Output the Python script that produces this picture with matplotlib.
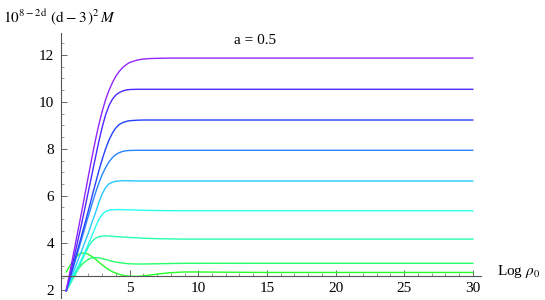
import matplotlib
matplotlib.use("Agg")
import matplotlib.pyplot as plt
import matplotlib.colors as mcolors
import numpy as np

plt.rcParams['font.family'] = ['Liberation Serif', 'DejaVu Serif']
plt.rcParams['mathtext.fontset'] = 'stix'

# x samples (Log rho0)
xs = [0.38, 0.6, 0.8, 1.0, 1.25, 1.5, 1.75, 2.0, 2.25, 2.5, 2.75, 3.0, 3.25, 3.5, 3.75,
      4.0, 4.25, 4.5, 4.75, 5.0, 5.5, 6.0, 6.5, 7.0, 8.0, 9.0, 10.0, 12.0, 15.0, 20.0, 30.0]

# curves from bottom (green) to top (purple)
c1 = [2.75, 2.97, 3.17, 3.33, 3.48, 3.56, 3.56, 3.50, 3.41, 3.30, 3.17, 3.05, 2.94, 2.84, 2.76,
      2.70, 2.65, 2.61, 2.58, 2.57, 2.56, 2.58, 2.62, 2.66, 2.72, 2.75, 2.75, 2.74, 2.73, 2.73, 2.73]
c2 = [2.00, 2.25, 2.48, 2.65, 2.87, 3.05, 3.19, 3.29, 3.35, 3.36, 3.35, 3.32, 3.28, 3.24, 3.20,
      3.17, 3.15, 3.13, 3.11, 3.10, 3.09, 3.09, 3.095, 3.10, 3.11, 3.12, 3.12, 3.12, 3.12, 3.12, 3.12]
c3 = [1.95, 2.15, 2.38, 2.58, 2.88, 3.20, 3.53, 3.83, 4.05, 4.18, 4.25, 4.28, 4.29, 4.28, 4.27,
      4.26, 4.25, 4.24, 4.23, 4.22, 4.21, 4.19, 4.18, 4.17, 4.16, 4.15, 4.15, 4.15, 4.15, 4.15, 4.15]
c4 = [1.95, 2.22, 2.50, 2.72, 3.00, 3.30, 3.62, 3.95, 4.30, 4.65, 4.98, 5.20, 5.33, 5.38, 5.40,
      5.41, 5.41, 5.41, 5.40, 5.40, 5.39, 5.38, 5.375, 5.37, 5.36, 5.36, 5.36, 5.36, 5.36, 5.36, 5.36]
c5 = [1.95, 2.28, 2.60, 2.90, 3.28, 3.65, 4.03, 4.42, 4.85, 5.25, 5.70, 6.08, 6.35, 6.51, 6.58,
      6.62, 6.63, 6.64, 6.64, 6.64, 6.63, 6.63, 6.63, 6.63, 6.63, 6.63, 6.63, 6.63, 6.63, 6.63, 6.63]
c6 = [1.95, 2.38, 2.78, 3.15, 3.65, 4.15, 4.65, 5.15, 5.63, 6.10, 6.53, 6.90, 7.20, 7.45, 7.63,
      7.76, 7.84, 7.89, 7.92, 7.93, 7.94, 7.94, 7.94, 7.94, 7.94, 7.94, 7.94, 7.94, 7.94, 7.94, 7.94]
c7 = [1.95, 2.40, 2.80, 3.25, 3.78, 4.30, 4.84, 5.38, 5.95, 6.50, 7.05, 7.55, 8.00, 8.38, 8.68,
      8.90, 9.04, 9.12, 9.17, 9.20, 9.22, 9.23, 9.23, 9.23, 9.23, 9.23, 9.23, 9.23, 9.23, 9.23, 9.23]
c8 = [1.95, 2.50, 3.00, 3.50, 4.15, 4.80, 5.50, 6.20, 6.90, 7.60, 8.30, 8.92, 9.45, 9.85, 10.12,
      10.30, 10.40, 10.47, 10.51, 10.53, 10.54, 10.54, 10.54, 10.54, 10.54, 10.54, 10.54, 10.54, 10.54, 10.54, 10.54]
c9 = [1.95, 2.60, 3.20, 3.80, 4.55, 5.30, 6.08, 6.85, 7.62, 8.35, 9.02, 9.60, 10.10, 10.50, 10.83,
      11.10, 11.31, 11.47, 11.59, 11.68, 11.78, 11.83, 11.85, 11.86, 11.87, 11.87, 11.87, 11.87, 11.87, 11.87, 11.87]
curves = [c1, c2, c3, c4, c5, c6, c7, c8, c9]

xticks = [5, 10, 15, 20, 25, 30]
yticks = [2, 4, 6, 8, 10, 12]

W, H = 545, 300
fig = plt.figure(figsize=(W / 100, H / 100), dpi=100)
x0_px, x1_px = 61, 481
y_top_px, y_bot_px = 33, 298
ax = fig.add_axes([x0_px / W, 1 - y_bot_px / H, (x1_px - x0_px) / W, (y_bot_px - y_top_px) / H])
ax.set_xlim(0, 30.6)
ax.set_ylim(1.64, 12.94)

hues = np.linspace(1 / 3, 0.75, len(curves))
for h, c in zip(hues, curves):
    col = mcolors.hsv_to_rgb((h, 0.85, 1.0))
    ax.plot(xs, c, color=col, lw=1.0, solid_joinstyle='round')

for s in ['top', 'right']:
    ax.spines[s].set_visible(False)
ax.spines['bottom'].set_position(('data', 2.58))
for s in ['bottom', 'left']:
    ax.spines[s].set_color('#555555')
    ax.spines[s].set_linewidth(0.8)

ax.set_xticks(xticks)
ax.set_xticklabels([str(t) for t in xticks])
ax.set_yticks(yticks)
ax.set_yticklabels([str(t) for t in yticks])
ax.set_xticks(np.arange(1, 31, 1), minor=True)
ax.set_yticks(np.arange(2, 13, 0.5), minor=True)
ax.tick_params(which='major', direction='in', length=4.5, width=0.7, color='#666666',
               labelsize=11, pad=4)
ax.tick_params(which='minor', direction='in', length=2.5, width=0.6, color='#888888')
ax.tick_params(axis='y', which='major', pad=5)

fig.text(255 / W, 1 - 40 / H, "a = 0.5", ha='center', va='center', fontsize=11)
fig.text(3 / W, 1 - 17 / H, r"$10^{8-2\,\mathrm{d}}\ (\mathrm{d}-3\,)^2\,M$", ha='left', va='center', fontsize=11)
fig.text(497 / W, 1 - 272 / H, r"Log $\rho_0$", ha='left', va='center', fontsize=11)

fig.savefig("out.png", dpi=100)
